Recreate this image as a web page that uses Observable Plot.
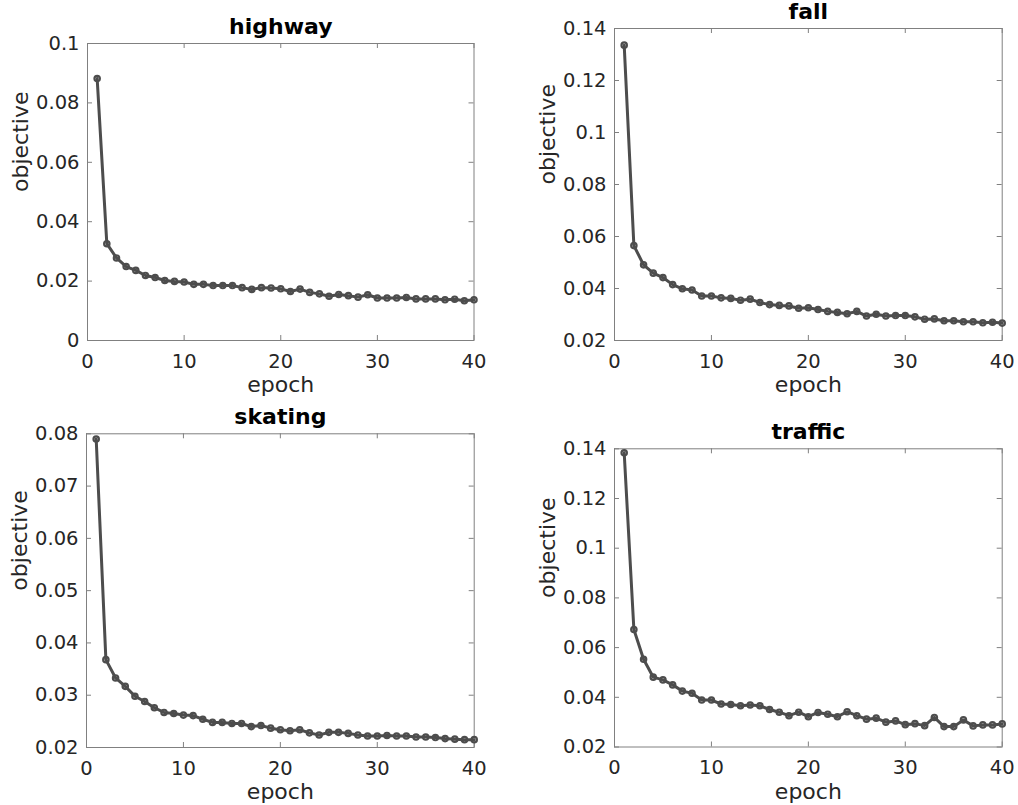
<!DOCTYPE html>
<html>
<head>
<meta charset="utf-8">
<script src="https://cdn.jsdelivr.net/npm/d3@7"></script>
<script src="https://cdn.jsdelivr.net/npm/@observablehq/plot@0.6"></script>
<style>
  html, body { margin: 0; padding: 0; background: #fff; }
  #chart { position: relative; width: 1018px; height: 805px; background: #fff; overflow: hidden; }
  #chart svg { position: absolute; }
</style>
</head>
<body>
<div id="chart"></div>
<script>
const epochs = [1,2,3,4,5,6,7,8,9,10,11,12,13,14,15,16,17,18,19,20,21,22,23,24,25,26,27,28,29,30,31,32,33,34,35,36,37,38,39,40];
const xTicks = [0, 10, 20, 30, 40];

const titles = ["highway", "fall", "skating", "traffic"];

const highway = [0.0882,0.0326,0.0278,0.0249,0.0236,0.0219,0.0212,0.0202,0.0199,0.0197,
                 0.0189,0.0189,0.0185,0.0185,0.0185,0.0178,0.0172,0.0178,0.0177,0.0174,
                 0.0165,0.0173,0.0162,0.0157,0.0149,0.0155,0.0151,0.0146,0.0154,0.0143,
                 0.0143,0.0143,0.0145,0.0140,0.0140,0.0140,0.0137,0.0139,0.0134,0.0137];
const fall = [0.1336,0.0565,0.0491,0.0459,0.0442,0.0415,0.0399,0.0394,0.0371,0.0371,
              0.0364,0.0362,0.0355,0.0359,0.0346,0.0338,0.0335,0.0333,0.0324,0.0326,
              0.0319,0.0312,0.0308,0.0303,0.0312,0.0294,0.0301,0.0294,0.0296,0.0296,
              0.0291,0.0282,0.0283,0.0276,0.0276,0.0272,0.0272,0.0268,0.0270,0.0267];
const skating = [0.0790,0.0368,0.0333,0.0317,0.0298,0.0288,0.0276,0.0267,0.0265,0.0262,
                 0.0261,0.0254,0.0248,0.0248,0.0246,0.0246,0.0240,0.0242,0.0237,0.0234,
                 0.0232,0.0234,0.0228,0.0224,0.0229,0.0229,0.0227,0.0224,0.0222,0.0222,
                 0.0223,0.0222,0.0222,0.0220,0.0220,0.0219,0.0217,0.0216,0.0215,0.0215];
const traffic = [0.1384,0.0673,0.0553,0.0481,0.0470,0.0450,0.0425,0.0416,0.0389,0.0389,
                 0.0373,0.0371,0.0366,0.0369,0.0366,0.0351,0.0340,0.0326,0.0340,0.0322,
                 0.0339,0.0332,0.0322,0.0342,0.0326,0.0312,0.0316,0.0300,0.0305,0.0290,
                 0.0294,0.0286,0.0319,0.0282,0.0282,0.0309,0.0285,0.0289,0.0289,0.0293];

const highwayTicks = [0, 0.02, 0.04, 0.06, 0.08, 0.1];
const fallTicks = [0.02, 0.04, 0.06, 0.08, 0.1, 0.12, 0.14];
const skatingTicks = [0.02, 0.03, 0.04, 0.05, 0.06, 0.07, 0.08];
const trafficTicks = [0.02, 0.04, 0.06, 0.08, 0.1, 0.12, 0.14];

const panels = [
  {title: titles[0], values: highway, yTicks: highwayTicks, domain: [0, 0.1],
   left: 0, top: 0, width: 509, height: 402, ml: 87, mt: 43, mr: 35.5, mb: 62},
  {title: titles[1], values: fall, yTicks: fallTicks, domain: [0.02, 0.14],
   left: 509, top: 0, width: 509, height: 402, ml: 105, mt: 28, mr: 16.3, mb: 62},
  {title: titles[2], values: skating, yTicks: skatingTicks, domain: [0.02, 0.08],
   left: 0, top: 402, width: 509, height: 403, ml: 86, mt: 31.3, mr: 35.3, mb: 58},
  {title: titles[3], values: traffic, yTicks: trafficTicks, domain: [0.02, 0.14],
   left: 509, top: 402, width: 509, height: 403, ml: 105, mt: 46.3, mr: 16.3, mb: 58.5}
];

const lineColor = "#4d4d4d";
const boxColor = "#808080";
const fmt = d => String(+d.toFixed(3));

const root = document.getElementById("chart");
for (const p of panels) {
  const data = p.values.map((v, i) => ({epoch: epochs[i], value: v}));
  const fh = p.height - p.mt - p.mb;
  const fw = p.width - p.ml - p.mr;
  const svg = Plot.plot({
    width: p.width, height: p.height,
    marginLeft: p.ml, marginTop: p.mt, marginRight: p.mr, marginBottom: p.mb,
    x: {domain: [0, 40]},
    y: {domain: p.domain},
    style: {fontFamily: "DejaVu Sans, sans-serif", fontSize: "19px", color: "#262626", background: "transparent", overflow: "visible"},
    marks: [
      Plot.frame({stroke: boxColor, strokeWidth: 1}),
      Plot.tickX(xTicks, {x: d => d, insetTop: fh - 5, stroke: boxColor}),
      Plot.tickX(xTicks, {x: d => d, insetBottom: fh - 5, stroke: boxColor}),
      Plot.tickY(p.yTicks, {y: d => d, insetRight: fw - 5, stroke: boxColor}),
      Plot.tickY(p.yTicks, {y: d => d, insetLeft: fw - 5, stroke: boxColor}),
      Plot.axisX(xTicks, {anchor: "bottom", tickSize: 0, tickPadding: 13.5, label: null, fontSize: 19.5, tickFormat: fmt}),
      Plot.axisY(p.yTicks, {anchor: "left", tickSize: 0, tickPadding: 8, label: null, fontSize: 19.5, tickFormat: fmt}),
      Plot.line(data, {x: "epoch", y: "value", stroke: lineColor, strokeWidth: 3}),
      Plot.dot(data, {x: "epoch", y: "value", r: 2.7, stroke: lineColor, strokeWidth: 2.2, fill: "none"}),
      Plot.text([p.title], {frameAnchor: "top", dy: -10, lineAnchor: "bottom", fontWeight: "bold", fontSize: 22, fill: "#000"}),
      Plot.text(["epoch"], {frameAnchor: "bottom", dy: 36, lineAnchor: "top", fontSize: 22, fill: "#262626"}),
      Plot.text(["objective"], {frameAnchor: "left", dx: -67, rotate: -90, fontSize: 22, fill: "#262626"})
    ]
  });
  svg.style.left = p.left + "px";
  svg.style.top = p.top + "px";
  root.appendChild(svg);
}
</script>
</body>
</html>
